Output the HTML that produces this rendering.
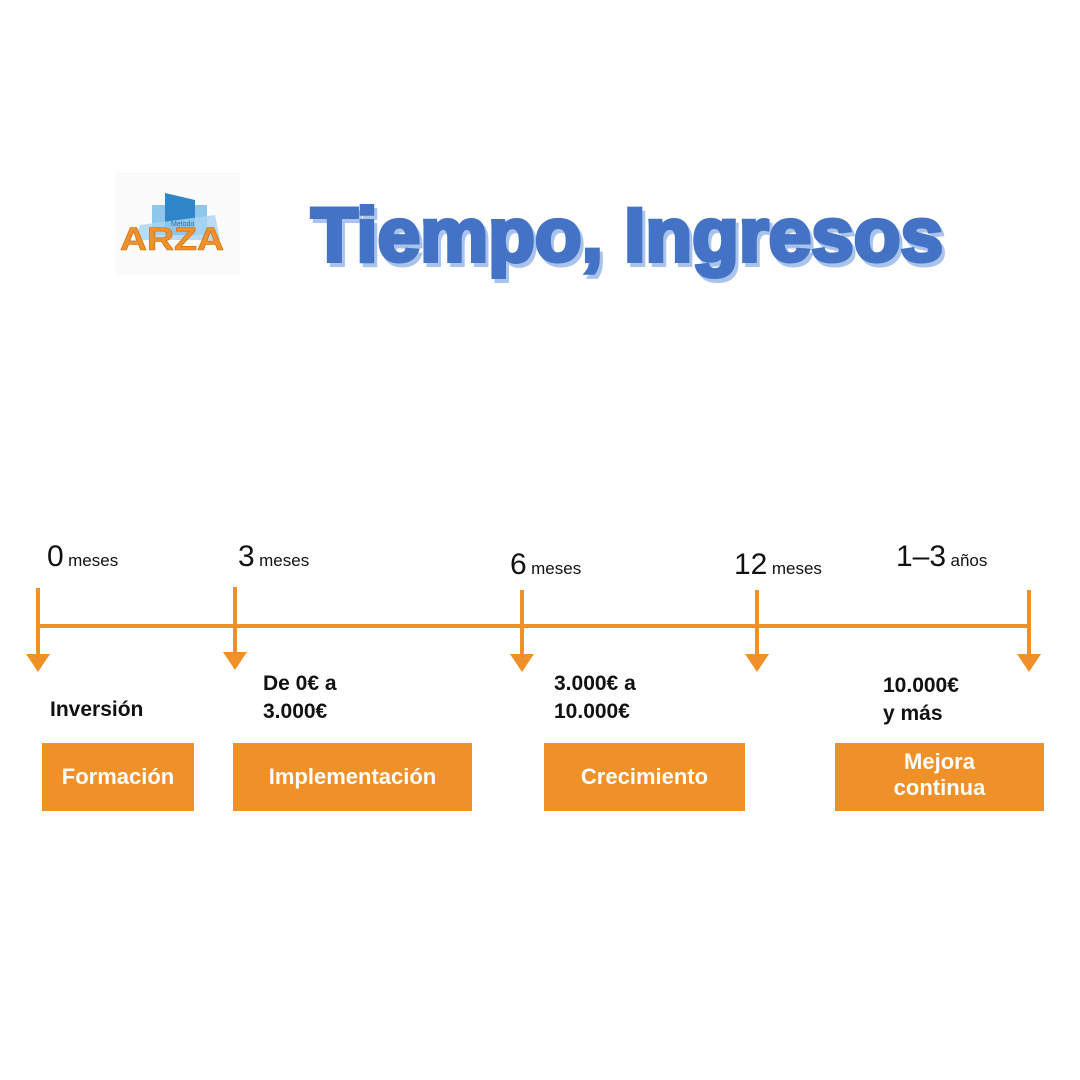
<!DOCTYPE html>
<html><head><meta charset="utf-8"><style>
body{margin:0;width:1080px;height:1080px;background:#fff;position:relative;overflow:hidden;font-family:"Liberation Sans",sans-serif}
.a{position:absolute}
.box{position:absolute;background:#ef9128;color:#fff;font-weight:bold;font-size:22px;display:flex;align-items:center;justify-content:center;text-align:center;line-height:26px}
.lbl{position:absolute;font-weight:bold;font-size:21px;color:#111;line-height:28px}
.m{position:absolute;color:#111;white-space:nowrap}
.m b{font-weight:normal;font-size:30px}
.m span{font-size:17px}
</style></head><body>
<svg class="a" style="left:0;top:0" width="1080" height="1080">
<rect x="115" y="172" width="125" height="103" fill="#fbfbfb"/>
<rect x="152" y="205" width="55" height="30" fill="#8fc6ec"/>
<polygon points="165,193 195,200 195,235 165,235" fill="#2e86c8"/>
<polygon points="140,225 215,215 220,240 135,240" fill="#a9d4f2" opacity=".8"/>
<text x="171" y="226" font-size="7" fill="#2e6da8" font-family="Liberation Sans">Metodo</text>
<text x="120" y="250" font-size="32" font-weight="bold" fill="#f0922b" stroke="#c86a10" stroke-width=".6" font-family="Liberation Sans" textLength="104" lengthAdjust="spacingAndGlyphs">ARZA</text>
<g fill="none" stroke="#ef9128" stroke-width="4">
<line x1="38" y1="626" x2="1029" y2="626"/>
<line x1="38" y1="588" x2="38" y2="656"/>
<line x1="235" y1="587" x2="235" y2="654"/>
<line x1="522" y1="590" x2="522" y2="656"/>
<line x1="757" y1="590" x2="757" y2="656"/>
<line x1="1029" y1="590" x2="1029" y2="656"/>
</g>
<g fill="#ef9128">
<polygon points="26,654 50,654 38,672"/>
<polygon points="223,652 247,652 235,670"/>
<polygon points="510,654 534,654 522,672"/>
<polygon points="745,654 769,654 757,672"/>
<polygon points="1017,654 1041,654 1029,672"/>
</g>
<text x="314" y="265" font-size="76" font-weight="bold" fill="#a9c3ea" font-family="Liberation Sans" textLength="632" lengthAdjust="spacingAndGlyphs" stroke="#a9c3ea" stroke-width="4">Tiempo, Ingresos</text>
<text x="311" y="261" font-size="76" font-weight="bold" fill="#4472c4" font-family="Liberation Sans" textLength="632" lengthAdjust="spacingAndGlyphs" stroke="#4472c4" stroke-width="4">Tiempo, Ingresos</text>
</svg>
<div class="m" style="left:47px;top:540px"><b>0</b> <span>meses</span></div>
<div class="m" style="left:238px;top:540px"><b>3</b> <span>meses</span></div>
<div class="m" style="left:510px;top:548px"><b>6</b> <span>meses</span></div>
<div class="m" style="left:734px;top:548px"><b>12</b> <span>meses</span></div>
<div class="m" style="left:896px;top:540px"><b>1–3</b> <span>años</span></div>
<div class="lbl" style="left:50px;top:696px">Inversión</div>
<div class="lbl" style="left:263px;top:670px">De 0€ a<br>3.000€</div>
<div class="lbl" style="left:554px;top:670px">3.000€ a<br>10.000€</div>
<div class="lbl" style="left:883px;top:672px">10.000€<br>y más</div>
<div class="box" style="left:42px;top:743px;width:152px;height:68px">Formación</div>
<div class="box" style="left:233px;top:743px;width:239px;height:68px">Implementación</div>
<div class="box" style="left:544px;top:743px;width:201px;height:68px">Crecimiento</div>
<div class="box" style="left:835px;top:743px;width:209px;height:68px;align-items:flex-start;padding-top:6px;box-sizing:border-box">Mejora<br>continua</div>
</body></html>
